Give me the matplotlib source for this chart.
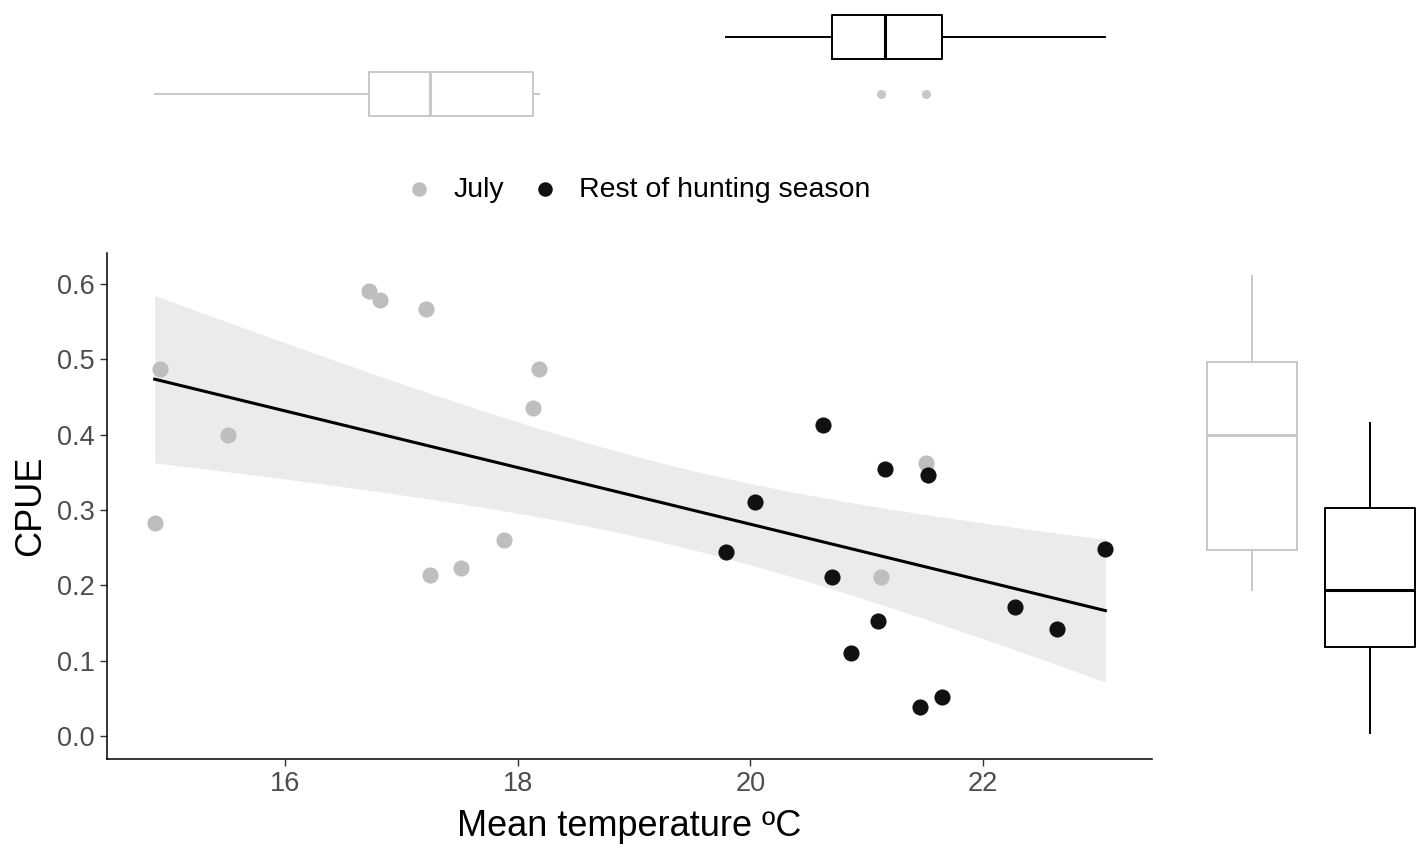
import matplotlib.pyplot as plt
import numpy as np

plt.rcParams["font.family"] = ["Liberation Sans", "DejaVu Sans"]

# Data
july_temp = [14.93, 14.88, 15.51, 16.72, 16.82, 17.21, 18.18, 18.13, 17.88, 17.25, 17.51, 21.12, 21.51]
july_cpue = [0.487, 0.282, 0.399, 0.591, 0.579, 0.566, 0.487, 0.435, 0.260, 0.214, 0.223, 0.211, 0.362]
rest_temp = [20.62, 20.04, 19.79, 20.70, 21.16, 21.53, 21.10, 20.86, 21.46, 21.65, 22.27, 22.63, 23.05]
rest_cpue = [0.413, 0.311, 0.244, 0.211, 0.354, 0.346, 0.153, 0.110, 0.038, 0.052, 0.171, 0.142, 0.248]
labels = ["July", "Rest of hunting season"]
colors = ["#bebebe", "#000000"]
box_colors = ["#c8c8c8", "#000000"]

x_all = np.array(july_temp + rest_temp)
y_all = np.array(july_cpue + rest_cpue)

fig = plt.figure(figsize=(14.26, 8.48), dpi=100)
ax = fig.add_axes([0.0750, 0.1050, 0.7328, 0.5967])
ax_top = fig.add_axes([0.0750, 0.849, 0.7328, 0.1475])
ax_right = fig.add_axes([0.8282, 0.0684, 0.1697, 0.6545])

xlim = (14.47, 23.45)
ylim = (-0.0305, 0.641)

# linear fit with 95% CI (like geom_smooth(method="lm"))
n = len(x_all)
b, a = np.polyfit(x_all, y_all, 1)
xs = np.linspace(x_all.min(), x_all.max(), 80)
fit = a + b * xs
resid = y_all - (a + b * x_all)
s = np.sqrt(np.sum(resid ** 2) / (n - 2))
se = s * np.sqrt(1 / n + (xs - x_all.mean()) ** 2 / np.sum((x_all - x_all.mean()) ** 2))
t = 2.0639  # t(0.975, df=24)
ax.fill_between(xs, fit - t * se, fit + t * se, color="#ebebeb", lw=0, zorder=1)

ax.scatter(july_temp, july_cpue, s=135, color=colors[0], lw=0, zorder=2, label=labels[0])
ax.scatter(rest_temp, rest_cpue, s=135, color="#111111", lw=0, zorder=2, label=labels[1])
ax.plot(xs, fit, color="black", lw=2.2, zorder=3)

ax.set_xlim(xlim)
ax.set_ylim(ylim)
ax.set_xticks([16, 18, 20, 22])
ax.set_yticks(np.arange(0, 0.61, 0.1))
ax.set_yticklabels([f"{v:.1f}" for v in np.arange(0, 0.61, 0.1)])
ax.tick_params(labelsize=19.5, labelcolor="#4d4d4d", color="#333333", length=5, width=1, pad=4)
for side in ["top", "right"]:
    ax.spines[side].set_visible(False)
for side in ["left", "bottom"]:
    ax.spines[side].set_linewidth(1.1)
ax.set_xlabel("Mean temperature ºC", fontsize=26, labelpad=8)
ax.set_ylabel("CPUE", fontsize=26, labelpad=6)

leg = fig.legend(handles=ax.collections[1:3], labels=labels, loc="center",
                 bbox_to_anchor=(0.447, 0.776), ncol=2, frameon=False, fontsize=20.5,
                 handlelength=1.0, handletextpad=0.7, columnspacing=0.93, markerscale=0.9)

# marginal boxplots
def draw_box(axis, data, pos, color, vert):
    axis.boxplot(data, positions=[pos], widths=0.76, vert=vert, patch_artist=False,
                 boxprops=dict(color=color, lw=1.4),
                 whiskerprops=dict(color=color, lw=1.4),
                 capprops=dict(lw=0),
                 medianprops=dict(color=color, lw=2.2),
                 flierprops=dict(marker="o", markerfacecolor=color, markeredgecolor="none",
                                 markersize=6.5))

draw_box(ax_top, july_temp, 1, box_colors[0], False)
draw_box(ax_top, rest_temp, 2, box_colors[1], False)
ax_top.set_xlim(xlim)
ax_top.set_ylim(0.4, 2.6)

draw_box(ax_right, july_cpue, 1, box_colors[0], True)
draw_box(ax_right, rest_cpue, 2, box_colors[1], True)
ax_right.set_ylim(ylim)
ax_right.set_xlim(0.4, 2.45)

for m in [ax_top, ax_right]:
    m.axis("off")

fig.savefig("out.png", dpi=100)
